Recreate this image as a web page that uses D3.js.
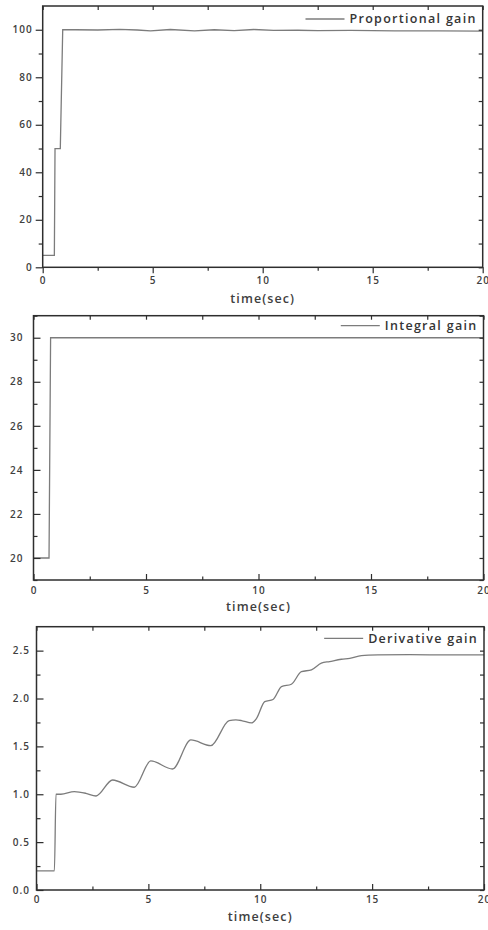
<!DOCTYPE html>
<html>
<head>
<meta charset="utf-8">
<script src="https://cdn.jsdelivr.net/npm/d3@7/dist/d3.min.js"></script>
<style>
  body { margin: 0; background: #fff; }
  svg { display: block; }
  text { font-family: "Open Sans", "DejaVu Sans", sans-serif; }
</style>
</head>
<body>
<script>
// --- data ---
let propTime = [0, 0.53, 0.56, 0.8, 0.91, 1.5, 2.5, 3.5, 4.3, 4.9, 5.8, 6.9, 7.8, 8.7, 9.6, 10.5, 11.6, 12.5, 14, 16, 18, 20];
let propGain = [5, 5, 50, 50, 100, 100, 99.9, 100.2, 99.9, 99.5, 100.1, 99.5, 100, 99.6, 100.1, 99.7, 99.8, 99.6, 99.7, 99.5, 99.5, 99.4];

let intTime = [0, 0.69, 0.76, 20];
let intGain = [20, 20, 30, 30];

let derTime = [0, 0.8, 0.87, 1.09, 1.69, 2.21, 2.66, 3.4, 4.37, 5.11, 6.08, 6.9, 7.79, 8.61, 8.91, 9.16, 9.61, 9.83,
               10.2, 10.57, 10.95, 11.39, 11.84, 12.29, 12.73, 13.1, 13.63, 14.0, 14.52, 15.26, 16.67, 18.5, 20];
let derGain = [0.2, 0.2, 1.0, 1.0, 1.027, 1.01, 0.982, 1.149, 1.073, 1.348, 1.264, 1.567, 1.508, 1.769, 1.776, 1.77, 1.745, 1.79,
               1.968, 1.99, 2.125, 2.149, 2.28, 2.30, 2.369, 2.386, 2.41, 2.42, 2.448, 2.455, 2.458, 2.455, 2.455];

let xMajor = [0, 5, 10, 15, 20];
let xMinor = [2.5, 7.5, 12.5, 17.5];

let propMajor = [0, 20, 40, 60, 80, 100];
let propMinor = [10, 30, 50, 70, 90];
let intMajor = [20, 22, 24, 26, 28, 30];
let intMinor = [19, 21, 23, 25, 27, 29, 31];
let derMajor = [0, 0.5, 1.0, 1.5, 2.0, 2.5];
let derMinor = [0.25, 0.75, 1.25, 1.75, 2.25];

let legendLabels = ["Proportional gain", "Integral gain", "Derivative gain"];
let xTitle = "time(sec)";

let W = 488, H = 930;

let svg = d3.select("body").append("svg")
    .attr("width", W)
    .attr("height", H);

let panels = [
    { label: legendLabels[0], t: propTime, v: propGain, yDomain: [0, 110], yMajor: propMajor, yMinor: propMinor,
      fmt: d3.format("d"), box: { l: 42.7, r: 482.7, t: 6, b: 267.3 }, outward: true,
      curve: d3.curveLinear, legendDy: 13, xLabDy: 18, yLabGap: 10, titleDy: 36 },
    { label: legendLabels[1], t: intTime, v: intGain, yDomain: [19, 31], yMajor: intMajor, yMinor: intMinor,
      fmt: d3.format("d"), box: { l: 33.5, r: 483.5, t: 315.7, b: 580 }, outward: false,
      curve: d3.curveLinear, legendDy: 10, xLabDy: 14.5, yLabGap: 10, titleDy: 31 },
    { label: legendLabels[2], t: derTime, v: derGain, yDomain: [0, 2.75], yMajor: derMajor, yMinor: derMinor,
      fmt: d3.format(".1f"), box: { l: 36.5, r: 484, t: 626.7, b: 890 }, outward: false,
      curve: d3.curveMonotoneX, legendDy: 11.6, xLabDy: 13.5, yLabGap: 6.5, titleDy: 31 }
];

let frameColor = "#2e2e2e";
let lineColor = "#7c7c7c";
let labelColor = "#404040";

panels.forEach(function(p) {
    let b = p.box;
    let x = d3.scaleLinear().domain([0, 20]).range([b.l, b.r]);
    let y = d3.scaleLinear().domain(p.yDomain).range([b.b, b.t]);

    let g = svg.append("g");

    // curve
    let pts = p.t.map(function(t, i) { return [t, p.v[i]]; });
    let line = d3.line()
        .x(function(d) { return x(d[0]); })
        .y(function(d) { return y(d[1]); })
        .curve(p.curve);
    g.append("path")
        .datum(pts)
        .attr("d", line)
        .attr("fill", "none")
        .attr("stroke", lineColor)
        .attr("stroke-width", 1.3);

    let dir = p.outward ? 1 : -1;

    // left axis, major with labels
    let yAx = g.append("g")
        .attr("transform", "translate(" + b.l + ",0)")
        .call(d3.axisLeft(y).tickValues(p.yMajor).tickSize(7 * dir)
            .tickPadding(p.outward ? p.yLabGap - 7 : p.yLabGap).tickFormat(p.fmt));
    // minor left
    let yAxMinor = g.append("g")
        .attr("transform", "translate(" + b.l + ",0)")
        .call(d3.axisLeft(y).tickValues(p.yMinor).tickSize(4 * dir).tickFormat(""));

    // bottom axis
    let xAx = g.append("g")
        .attr("transform", "translate(0," + b.b + ")")
        .call(d3.axisBottom(x).tickValues(xMajor).tickSize(6 * dir)
            .tickPadding(p.outward ? p.xLabDy - 14 : p.xLabDy - 8).tickFormat(d3.format("d")));
    let xAxMinor = g.append("g")
        .attr("transform", "translate(0," + b.b + ")")
        .call(d3.axisBottom(x).tickValues(xMinor).tickSize(3.5 * dir).tickFormat(""));

    // top and right, small inward ticks
    let topAx = g.append("g")
        .attr("transform", "translate(0," + b.t + ")")
        .call(d3.axisTop(x).tickValues(xMajor.concat(xMinor)).tickSize(-4).tickFormat(""));
    let rightAx = g.append("g")
        .attr("transform", "translate(" + b.r + ",0)")
        .call(d3.axisRight(y).tickValues(p.yMajor.concat(p.yMinor)).tickSize(-4).tickFormat(""));

    [yAx, yAxMinor, xAx, xAxMinor, topAx, rightAx].forEach(function(a) {
        a.select(".domain").remove();
        a.selectAll("line").attr("stroke", frameColor).attr("stroke-width", 1.2);
        a.selectAll("text")
            .attr("fill", labelColor)
            .style("font-size", "10px")
            .style("font-weight", "600")
            .style("letter-spacing", "1px");
    });

    // frame
    g.append("rect")
        .attr("x", b.l)
        .attr("y", b.t)
        .attr("width", b.r - b.l)
        .attr("height", b.b - b.t)
        .attr("fill", "none")
        .attr("stroke", frameColor)
        .attr("stroke-width", 1.5);

    // x title
    g.append("text")
        .attr("x", (b.l + b.r) / 2)
        .attr("y", b.b + p.titleDy)
        .attr("text-anchor", "middle")
        .attr("fill", labelColor)
        .style("font-size", "12.5px")
        .style("font-weight", "600")
        .style("letter-spacing", "1.1px")
        .text(xTitle);

    // legend
    let ly = b.t + p.legendDy;
    let lt = g.append("text")
        .attr("x", b.r - 6)
        .attr("y", ly + 4.3)
        .attr("text-anchor", "end")
        .attr("fill", "#353535")
        .style("font-size", "12.5px")
        .style("font-weight", "600")
        .style("letter-spacing", "1.3px")
        .text(p.label);
    let tw = lt.node().getComputedTextLength();
    let tx0 = b.r - 6 - tw;
    g.append("line")
        .attr("x1", tx0 - 44)
        .attr("x2", tx0 - 5)
        .attr("y1", ly)
        .attr("y2", ly)
        .attr("stroke", lineColor)
        .attr("stroke-width", 1.3);
});
</script>
</body>
</html>
